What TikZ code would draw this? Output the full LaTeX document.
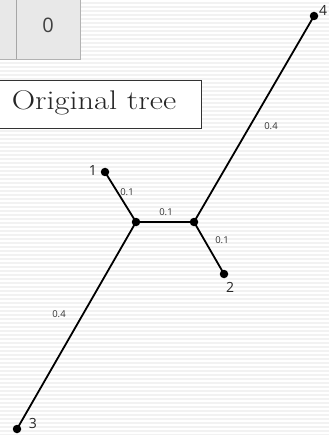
\documentclass[tikz,border=0pt]{standalone}
\usepackage{fontspec}
\setsansfont{Open Sans}
\begin{document}
\begin{tikzpicture}[x=1pt,y=-1pt,
  edge/.style={line width=1.8pt,black},
  dot/.style={circle,fill=black,inner sep=0pt,minimum size=8.5pt},
  elabel/.style={font=\sffamily\fontsize{9.5}{11}\selectfont,text=black!80,inner sep=0pt},
  nlabel/.style={font=\sffamily\fontsize{14}{16}\selectfont,text=black!85,inner sep=0pt}]
\useasboundingbox (0,0) rectangle (329,435);
\fill[white] (0,0) rectangle (329,435);
\foreach \y in {0,4,...,432} \fill[black!5] (0,\y+2) rectangle (329,\y+4);
% top cell
\fill[black!9] (0,0) rectangle (80,59);
\draw[black!35,line width=0.8pt] (16,0) -- (16,59);
\draw[black!30,line width=0.8pt] (80,0) -- (80,59) -- (0,59);
\node[font=\sffamily\fontsize{20}{24}\selectfont,text=black!75] (zero) at (48,25) {0};
% title box
\node[draw=black!80,fill=white,line width=0.9pt,minimum width=202pt,minimum height=48pt,anchor=north west,inner sep=0pt] (title) at (-1,80) {};
\node[text=black!85,inner sep=0pt] (titletext) at (94,103) {\scalebox{1.2}[1]{\fontsize{27}{30}\selectfont Original tree}};
% tree
\node[dot] (n1) at (105,172) {};
\node[dot] (a) at (136,222) {};
\node[dot] (b) at (194,222) {};
\node[dot] (n2) at (224,274) {};
\node[dot] (n3) at (17,429) {};
\node[dot] (n4) at (314,16) {};
\draw[edge] (n1.center) -- (a.center);
\draw[edge] (a.center) -- (b.center);
\draw[edge] (b.center) -- (n2.center);
\draw[edge] (a.center) -- (n3.center);
\draw[edge] (b.center) -- (n4.center);
\node[elabel] (l1) at (127,192) {0.1};
\node[elabel] (lm) at (166,212) {0.1};
\node[elabel] (l2) at (222,240) {0.1};
\node[elabel] (l3) at (59,314) {0.4};
\node[elabel] (l4) at (271,126) {0.4};
\node[nlabel] (t1) at (93,171) {1};
\node[nlabel] (t2) at (230,287) {2};
\node[nlabel] (t3) at (33,423) {3};
\node[nlabel] (t4) at (323,10) {4};
\end{tikzpicture}
\end{document}
